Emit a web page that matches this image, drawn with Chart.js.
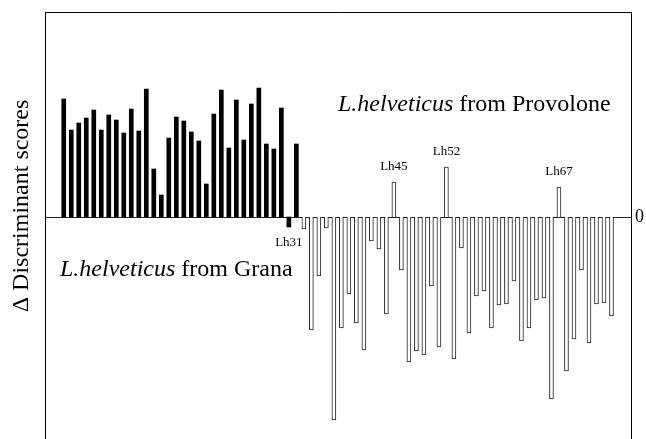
<!DOCTYPE html>
<html>
<head>
<meta charset="utf-8">
<script src="https://cdn.jsdelivr.net/npm/chart.js@4"></script>
<style>
  html, body { margin: 0; padding: 0; background: #fff; }
</style>
</head>
<body>
<canvas id="chart" width="646" height="439"></canvas>
<script>
// =============================
// DATA
// =============================
// strains Lh1..Lh32 isolated from Grana, Lh33..Lh74 from Provolone
const granaStrains = Array.from({ length: 32 }, (_, i) => i + 1);
const provoloneStrains = Array.from({ length: 42 }, (_, i) => i + 33);

const granaScores = [
  11.8, 8.7, 9.4, 9.9, 10.7, 8.7, 10.2, 9.7, 8.4, 10.8,
  8.6, 12.8, 4.8, 2.2, 7.9, 10.0, 9.6, 8.5, 7.6, 3.3,
  10.3, 12.7, 6.9, 11.7, 7.7, 11.3, 12.9, 7.3, 6.8, 10.9,
  -1.0, 7.3
];

const provoloneScores = [
  -1.2, -11.3, -5.9, -1.1, -20.3, -11.1, -7.7, -10.6, -13.3, -2.4,
  -3.2, -9.7, 3.5, -5.3, -14.5, -13.4, -13.8, -6.9, -13.0, 5.0,
  -14.2, -3.1, -11.6, -7.9, -7.4, -11.1, -8.8, -8.7, -6.4, -12.4,
  -11.1, -8.3, -8.1, -18.2, 3.0, -15.4, -12.2, -5.3, -12.6, -8.7,
  -8.6, -9.9
];

// misclassified strains that get a label
const markedStrains = [31, 45, 52, 67];

const Y_MIN = -22.2;
const Y_MAX = 20.5;

const SERIF = "'Liberation Serif', 'Times New Roman', serif";

function toPoints(ids, vals) {
    return ids.map((id, i) => ({ x: id, y: vals[i] }));
}

// no extra room for tick labels at the ends of the vertical axes
function noPad(axis) {
    axis.paddingTop = 0;
    axis.paddingBottom = 0;
}

// =============================
// TEXTOS
// =============================
const textPlugin = {
    id: 'texts',
    afterDatasetsDraw(chart) {
        const ctx = chart.ctx;
        const xs = chart.scales.x;
        const ys = chart.scales.y;
        ctx.save();
        ctx.fillStyle = '#000';

        // Lh labels above / below their bar
        ctx.font = '13px ' + SERIF;
        ctx.textAlign = 'center';
        ctx.textBaseline = 'middle';
        const allIds = granaStrains.concat(provoloneStrains);
        const allVals = granaScores.concat(provoloneScores);
        markedStrains.forEach(id => {
            const v = allVals[allIds.indexOf(id)];
            const px = xs.getPixelForValue(id);
            const py = ys.getPixelForValue(v);
            ctx.fillText('Lh' + id, px, v >= 0 ? py - 15 : py + 16);
        });

        // group names
        function groupLabel(x, y, name) {
            ctx.textAlign = 'left';
            ctx.textBaseline = 'middle';
            ctx.font = 'italic 24px ' + SERIF;
            ctx.fillText('L.helveticus', x, y);
            const w = ctx.measureText('L.helveticus').width;
            ctx.font = '24px ' + SERIF;
            ctx.fillText(' from ' + name, x + w, y);
        }
        groupLabel(338, 105, 'Provolone');
        groupLabel(60, 270, 'Grana');

        // y title
        ctx.translate(22, 206);
        ctx.rotate(-Math.PI / 2);
        ctx.textAlign = 'center';
        ctx.textBaseline = 'middle';
        ctx.font = '24px ' + SERIF;
        ctx.fillText('\u0394 Discriminant scores', 0, 0);
        ctx.restore();
    }
};

// =============================
// GRAFICA
// =============================
new Chart(document.getElementById('chart'), {
    type: 'bar',
    data: {
        datasets: [
            {
                label: 'Grana',
                data: toPoints(granaStrains, granaScores),
                backgroundColor: '#000',
                borderWidth: 0,
                barThickness: 4
            },
            {
                label: 'Provolone',
                data: toPoints(provoloneStrains, provoloneScores),
                backgroundColor: '#fff',
                borderColor: '#222',
                borderWidth: 1,
                barThickness: 4
            }
        ]
    },
    options: {
        responsive: false,
        animation: false,
        grouped: false,
        layout: { padding: { top: 12, left: 0, right: 0, bottom: 0 } },
        plugins: {
            legend: { display: false },
            tooltip: { enabled: false }
        },
        scales: {
            x: {
                type: 'linear',
                position: 'top',
                min: -1.5,
                max: 76.6,
                offset: false,
                ticks: { display: false },
                grid: { display: false, drawTicks: false },
                border: { display: true, color: '#000', width: 1 },
                afterFit(axis) { axis.height = 0; axis.paddingLeft = 0; axis.paddingRight = 0; }
            },
            yL: {
                type: 'linear',
                position: 'left',
                min: Y_MIN,
                max: Y_MAX,
                ticks: { display: false },
                grid: { display: false, drawTicks: false },
                border: { display: true, color: '#000', width: 1 },
                afterFit(axis) { axis.width = 45; noPad(axis); }
            },
            y: {
                type: 'linear',
                position: 'right',
                min: Y_MIN,
                max: Y_MAX,
                afterBuildTicks(axis) { axis.ticks = [{ value: 0 }]; },
                ticks: {
                    color: '#000',
                    padding: 4,
                    font: { family: SERIF, size: 18 }
                },
                grid: { drawTicks: false, color: '#222', lineWidth: 1 },
                border: { display: true, color: '#000', width: 1 },
                afterFit(axis) { axis.width = 15; noPad(axis); }
            }
        }
    },
    plugins: [textPlugin]
});
</script>
</body>
</html>
